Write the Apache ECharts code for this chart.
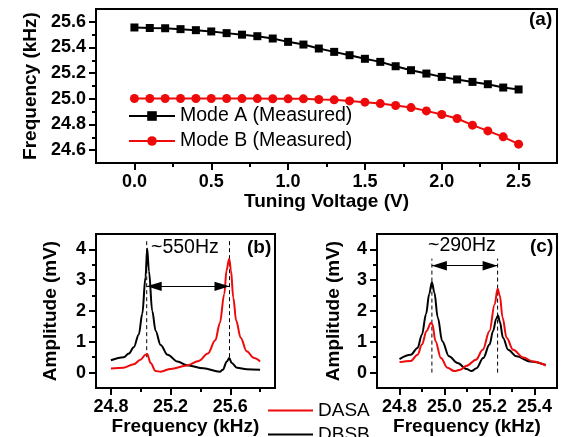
<!DOCTYPE html>
<html>
<head>
<meta charset="utf-8">
<script src="https://cdn.jsdelivr.net/npm/echarts@6/dist/echarts.min.js"></script>
<style>
  html, body { margin: 0; padding: 0; background: #fff; }
  #chart { width: 561px; height: 437px; }
</style>
</head>
<body>
<div id="chart"></div>
<script>
// (a) tuning curves
const voltage = [0, 0.1, 0.2, 0.3, 0.4, 0.5, 0.6, 0.7, 0.8, 0.9, 1.0, 1.1, 1.2,
  1.3, 1.4, 1.5, 1.6, 1.7, 1.8, 1.9, 2.0, 2.1, 2.2, 2.3, 2.4, 2.5];
const modeA = [25.556, 25.552, 25.55, 25.543, 25.535, 25.525, 25.512, 25.5, 25.488, 25.47,
  25.444, 25.423, 25.392, 25.366, 25.34, 25.312, 25.288, 25.254, 25.223, 25.197,
  25.171, 25.151, 25.132, 25.114, 25.088, 25.073];
const modeB = [25.003, 25.003, 25.003, 25.003, 25.003, 25.003, 25.003, 25.002, 25.002, 25.001,
  25.0, 25.0, 24.995, 24.992, 24.984, 24.974, 24.963, 24.948, 24.932, 24.906,
  24.878, 24.847, 24.795, 24.75, 24.704, 24.647];

// (b) spectra
const bFreqDBSB = [24.8, 24.886, 24.92, 24.953, 24.987, 25.01, 25.032, 25.043, 25.055, 25.077,
  25.1, 25.133, 25.18, 25.246, 25.31, 25.42, 25.53, 25.55, 25.577, 25.593, 25.61, 25.645, 25.71, 25.8];
const bAmpDBSB = [0.4, 0.5, 0.62, 0.82, 1.24, 1.9, 3.1, 4.03, 3.3, 2.0,
  1.35, 0.9, 0.58, 0.36, 0.24, 0.14, 0.03, 0.09, 0.36, 0.47, 0.31, 0.16, 0.11, 0.09];
const bFreqDASA = [24.8, 24.886, 24.953, 24.998, 25.032, 25.043, 25.066, 25.1, 25.133, 25.2,
  25.31, 25.39, 25.45, 25.5, 25.53, 25.56, 25.575, 25.593, 25.605, 25.62, 25.64, 25.67, 25.71, 25.76, 25.8];
const bAmpDASA = [0.13, 0.16, 0.27, 0.42, 0.58, 0.6, 0.31, 0.05, 0.03, 0.12,
  0.23, 0.38, 0.62, 1.05, 1.6, 2.55, 3.32, 3.7, 3.32, 2.44, 1.68, 1.13, 0.69, 0.47, 0.36];
const bPeaks = [25.04, 25.595];
const bDashSpan = [0.5, 4.35];
const bArrowLevel = 2.8;

// (c) spectra
const cFreqDBSB = [24.8, 24.85, 24.88, 24.9, 24.918, 24.932, 24.944, 24.955, 24.97, 24.99,
  25.02, 25.058, 25.098, 25.12, 25.142, 25.172, 25.2, 25.216, 25.23, 25.238, 25.246,
  25.26, 25.283, 25.32, 25.38, 25.45];
const cAmpDBSB = [0.44, 0.58, 0.8, 1.24, 1.9, 2.55, 2.93, 2.6, 1.79, 1.02,
  0.53, 0.31, 0.12, 0.05, 0.14, 0.47, 0.91, 1.35, 1.75, 1.85, 1.65,
  1.13, 0.74, 0.53, 0.36, 0.25];
const cFreqDASA = [24.8, 24.85, 24.88, 24.9, 24.92, 24.94, 24.946, 24.96, 24.984, 25.013,
  25.043, 25.07, 25.098, 25.14, 25.17, 25.2, 25.223, 25.236, 25.246, 25.258,
  25.276, 25.305, 25.35, 25.394, 25.45];
const cAmpDASA = [0.34, 0.38, 0.58, 0.91, 1.35, 1.62, 1.57, 1.02, 0.47, 0.16,
  0.05, 0.09, 0.22, 0.42, 0.74, 1.35, 2.22, 2.72, 2.5, 1.79,
  1.13, 0.74, 0.49, 0.36, 0.23];
const cPeaks = [24.944, 25.236];
const cDashSpan = [0, 3.7];
const cArrowLevel = 3.47;

// tick labels
const aXTicks = [0, 0.5, 1.0, 1.5, 2.0, 2.5];
const aXMinor = [0.25, 0.75, 1.25, 1.75, 2.25];
const aYTicks = [24.6, 24.8, 25.0, 25.2, 25.4, 25.6];
const aYMinor = [24.7, 24.9, 25.1, 25.3, 25.5];
const bXTicks = [24.8, 25.2, 25.6];
const bXMinor = [25.0, 25.4, 25.8];
const cXTicks = [24.8, 25.0, 25.2, 25.4];
const cXMinor = [24.9, 25.1, 25.3];
const ampTicks = [0, 1, 2, 3, 4];
const ampMinor = [0.5, 1.5, 2.5, 3.5];

const RED = '#ee0a0a';
const FONT = "'Liberation Sans', Arial, sans-serif";

const zip = (xs, ys) => xs.map((x, i) => [x, ys[i]]);

// main axis + overlay axis carrying only the short minor ticks
function axisPair(grid, min, max, ticks, minor, digits, name, nameGap) {
  const main = {
    type: 'value', gridIndex: grid, min: min, max: max,
    name: name, nameLocation: 'middle', nameGap: nameGap,
    nameTextStyle: { fontFamily: FONT, fontSize: 19, fontWeight: 'bold', color: '#000' },
    axisLine: { show: true, onZero: false, lineStyle: { color: '#000', width: 2 } },
    axisTick: { show: true, customValues: ticks, length: 7, lineStyle: { color: '#000', width: 2 } },
    axisLabel: {
      customValues: ticks, margin: 10,
      fontFamily: FONT, fontSize: 18, fontWeight: 'bold', color: '#000',
      formatter: v => v.toFixed(digits)
    },
    splitLine: { show: false }
  };
  const sub = {
    type: 'value', gridIndex: grid, min: min, max: max,
    axisLine: { show: false, onZero: false },
    axisTick: { show: true, customValues: minor, length: 4, lineStyle: { color: '#000', width: 2 } },
    axisLabel: { show: false },
    splitLine: { show: false }
  };
  return [main, sub];
}

const xAxes = [
  ...axisPair(0, -0.25, 2.75, aXTicks, aXMinor, 1, 'Tuning Voltage (V)', 27),
  ...axisPair(1, 24.7, 25.9, bXTicks, bXMinor, 1, 'Frequency (kHz)', 29),
  ...axisPair(2, 24.7, 25.5, cXTicks, cXMinor, 1, 'Frequency (kHz)', 27)
];
xAxes.forEach(a => { a.position = 'bottom'; });
const yAxes = [
  ...axisPair(0, 24.5, 25.7, aYTicks, aYMinor, 1, 'Frequency (kHz)', 56),
  ...axisPair(1, -0.5, 4.5, ampTicks, ampMinor, 0, 'Amplitude (mV)', 36),
  ...axisPair(2, -0.5, 4.5, ampTicks, ampMinor, 0, 'Amplitude (mV)', 34)
];
yAxes.forEach(a => { a.position = 'left'; });

function curve(name, color, axis, xs, ys) {
  return {
    name: name, type: 'line', xAxisIndex: axis, yAxisIndex: axis,
    data: zip(xs, ys), symbol: 'none', smooth: 0.35, smoothMonotone: 'x',
    lineStyle: { color: color, width: 2 }, itemStyle: { color: color }
  };
}

function dashed(axis, x, span) {
  return {
    type: 'line', xAxisIndex: axis, yAxisIndex: axis, silent: true,
    data: [[x, span[0]], [x, span[1]]], symbol: 'none',
    lineStyle: { color: '#000', width: 1, type: [4, 3] }
  };
}

const arrowHead = 'path://M5,0 L10,16 L0,16 Z';
function arrow(axis, peaks, level) {
  return {
    type: 'line', xAxisIndex: axis, yAxisIndex: axis, silent: true, data: [],
    markLine: {
      silent: true, animation: false,
      symbol: [arrowHead, arrowHead], symbolSize: 15, symbolKeepAspect: true,
      symbolOffset: [[0, 7.5], [0, 7.5]],
      label: { show: false },
      lineStyle: { color: '#000', width: 1, type: 'solid' },
      data: [[{ coord: [peaks[0], level] }, { coord: [peaks[1], level] }]]
    }
  };
}

const lineIcon = 'rect';
const chart = echarts.init(document.getElementById('chart'));
chart.setOption({
  animation: false,
  backgroundColor: '#fff',
  grid: [
    { left: 96, top: 9, width: 461, height: 154, show: true, borderColor: '#000', borderWidth: 2 },
    { left: 96, top: 234, width: 179, height: 154, show: true, borderColor: '#000', borderWidth: 2 },
    { left: 377, top: 234, width: 180, height: 154, show: true, borderColor: '#000', borderWidth: 2 }
  ],
  xAxis: xAxes,
  yAxis: yAxes,
  legend: [
    {
      data: ['Mode A (Measured)', 'Mode B (Measured)'],
      orient: 'vertical', left: 128, top: 106, height: 80, padding: 0,
      itemWidth: 46, itemHeight: 12, itemGap: 5,
      textStyle: { fontFamily: FONT, fontSize: 19.5, color: '#000' }
    },
    {
      data: [{ name: 'DASA', icon: lineIcon }, { name: 'DBSB', icon: lineIcon }],
      orient: 'vertical', left: 268, top: 401, height: 80, padding: 0,
      itemWidth: 45, itemHeight: 2, itemGap: 5,
      textStyle: { fontFamily: FONT, fontSize: 19, color: '#000' }
    }
  ],
  graphic: [
    { type: 'text', left: 529, top: 10, style: { text: '(a)', font: "bold 19px 'Liberation Sans', Arial", fill: '#000' } },
    { type: 'text', left: 247, top: 238, style: { text: '(b)', font: "bold 19px 'Liberation Sans', Arial", fill: '#000' } },
    { type: 'text', left: 530, top: 237, style: { text: '(c)', font: "bold 19px 'Liberation Sans', Arial", fill: '#000' } },
    { type: 'text', left: 151, top: 238, style: { text: '~550Hz', font: "19.5px 'Liberation Sans', Arial", fill: '#000' } },
    { type: 'text', left: 428, top: 236, style: { text: '~290Hz', font: "19.5px 'Liberation Sans', Arial", fill: '#000' } }
  ],
  series: [
    {
      name: 'Mode A (Measured)', type: 'line', xAxisIndex: 0, yAxisIndex: 0,
      data: zip(voltage, modeA), symbol: 'rect', symbolSize: 8,
      lineStyle: { color: '#000', width: 2 }, itemStyle: { color: '#000' }
    },
    {
      name: 'Mode B (Measured)', type: 'line', xAxisIndex: 0, yAxisIndex: 0,
      data: zip(voltage, modeB), symbol: 'circle', symbolSize: 9,
      lineStyle: { color: RED, width: 2 }, itemStyle: { color: RED }
    },
    dashed(2, bPeaks[0], bDashSpan),
    dashed(2, bPeaks[1], bDashSpan),
    dashed(4, cPeaks[0], cDashSpan),
    dashed(4, cPeaks[1], cDashSpan),
    curve('DBSB', '#000', 2, bFreqDBSB, bAmpDBSB),
    curve('DASA', RED, 2, bFreqDASA, bAmpDASA),
    curve('DBSB', '#000', 4, cFreqDBSB, cAmpDBSB),
    curve('DASA', RED, 4, cFreqDASA, cAmpDASA),
    arrow(2, bPeaks, bArrowLevel),
    arrow(4, cPeaks, cArrowLevel)
  ]
});
</script>
</body>
</html>
